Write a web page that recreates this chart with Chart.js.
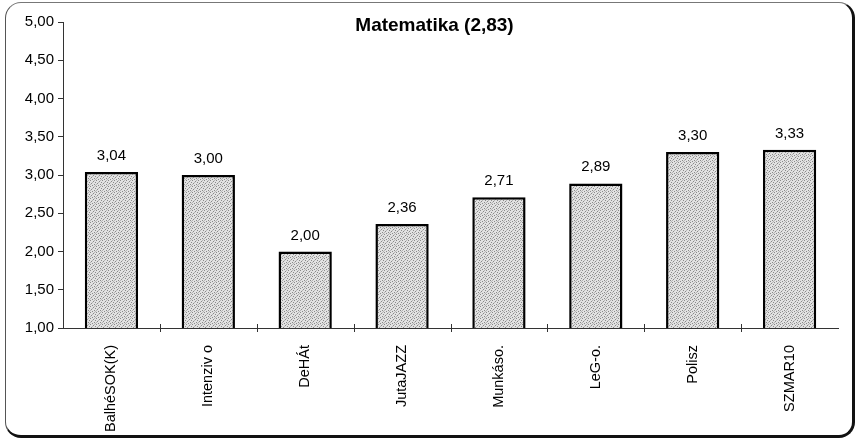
<!DOCTYPE html>
<html>
<head>
<meta charset="utf-8">
<script src="https://cdn.jsdelivr.net/npm/chart.js@4/dist/chart.umd.min.js"></script>
<style>
  html, body { margin: 0; padding: 0; background: #fff; }
  #wrap { position: relative; width: 858px; height: 443px; }
  #frame { position: absolute; left: 5px; top: 2px; width: 846px; height: 432px;
    border-left: 1px solid #555; border-top: 1px solid #777; border-right: 3px solid #111; border-bottom: 3px solid #111;
    border-radius: 16px; pointer-events: none; }
  canvas { position: absolute; left: 0; top: 0; }
</style>
</head>
<body>
<div id="wrap">
  <canvas id="c" width="858" height="443"></canvas>
  <div id="frame"></div>
</div>
<script>
const chartTitle = "Matematika (2,83)";
const categories = ["BalhéSOK(K)", "Intenziv o", "DeHÁt", "JutaJAZZ", "Munkáso.", "LeG-o.", "Polisz", "SZMAR10"];
const values = [3.04, 3.00, 2.00, 2.36, 2.71, 2.89, 3.30, 3.33];
const yTicks = [1.00, 1.50, 2.00, 2.50, 3.00, 3.50, 4.00, 4.50, 5.00];

const fmt = v => v.toFixed(2).replace('.', ',');
const FONT = "'Liberation Sans', Arial, sans-serif";

// stippled gray fill pattern
function makePattern() {
  const pc = document.createElement('canvas');
  pc.width = 6; pc.height = 6;
  const g = pc.getContext('2d');
  g.fillStyle = '#e2e2e2';
  g.fillRect(0, 0, 6, 6);
  g.fillStyle = '#8a8a8a';
  [[0,0],[3,1],[1,3],[4,4],[2,5],[5,2]].forEach(p => g.fillRect(p[0], p[1], 1, 1));
  g.fillStyle = '#b5b5b5';
  [[2,2],[5,5],[0,4],[4,0]].forEach(p => g.fillRect(p[0], p[1], 1, 1));
  return g.createPattern(pc, 'repeat');
}

const ctx = document.getElementById('c').getContext('2d');
const pattern = makePattern();

const titlePlugin = {
  id: 'customTitle',
  afterDraw(chart) {
    const c = chart.ctx;
    const a = chart.chartArea;
    c.save();
    c.font = "bold 19px " + FONT;
    c.fillStyle = '#000';
    c.textAlign = 'center';
    c.textBaseline = 'middle';
    c.fillText(chartTitle, (a.left + a.right) / 2 - 16, 26);
    c.restore();
  }
};

const valueLabels = {
  id: 'valueLabels',
  afterDatasetsDraw(chart) {
    const c = chart.ctx;
    const meta = chart.getDatasetMeta(0);
    c.save();
    c.font = "15px " + FONT;
    c.fillStyle = '#000';
    c.textAlign = 'center';
    c.textBaseline = 'alphabetic';
    meta.data.forEach((bar, i) => {
      c.fillText(fmt(values[i]), bar.x, bar.y - 12);
    });
    c.restore();
  }
};

const xCrossTicks = {
  id: 'xCrossTicks',
  afterDraw(chart) {
    const c = chart.ctx;
    const xs = chart.scales.x;
    const a = chart.chartArea;
    c.save();
    c.strokeStyle = '#333';
    c.lineWidth = 1;
    for (let i = 1; i < categories.length; i++) {
      const x = Math.round((xs.getPixelForTick(i - 1) + xs.getPixelForTick(i)) / 2) + 0.5;
      c.beginPath();
      c.moveTo(x, a.bottom - 4);
      c.lineTo(x, a.bottom + 4);
      c.stroke();
    }
    c.restore();
  }
};

new Chart(ctx, {
  type: 'bar',
  data: {
    labels: categories,
    datasets: [{
      data: values,
      backgroundColor: pattern,
      borderColor: '#000',
      borderWidth: 2.5,
      borderSkipped: false,
      barPercentage: 0.55,
      categoryPercentage: 1.0
    }]
  },
  options: {
    responsive: false,
    animation: false,
    devicePixelRatio: 1,
    layout: { padding: { left: 0, right: 20, top: 22, bottom: 0 } },
    plugins: { legend: { display: false }, title: { display: false }, tooltip: { enabled: false } },
    scales: {
      x: {
        grid: { display: false, drawOnChartArea: false },
        border: { display: true, color: '#333', width: 1 },
        ticks: {
          minRotation: 90, maxRotation: 90, autoSkip: false,
          padding: 9,
          color: '#000',
          font: { family: FONT, size: 14.5 }
        },
        afterFit(scale) { scale.height = 115; }
      },
      y: {
        min: 1, max: 5,
        afterBuildTicks(scale) { scale.ticks = yTicks.map(v => ({ value: v })); },
        grid: { drawOnChartArea: false, drawTicks: true, tickLength: 5, color: '#333' },
        border: { display: true, color: '#333', width: 1 },
        ticks: {
          padding: 4,
          color: '#000',
          font: { family: FONT, size: 15 },
          callback: v => fmt(v)
        },
        afterFit(scale) { scale.width = 63; }
      }
    }
  },
  plugins: [titlePlugin, valueLabels, xCrossTicks]
});
</script>
</body>
</html>
